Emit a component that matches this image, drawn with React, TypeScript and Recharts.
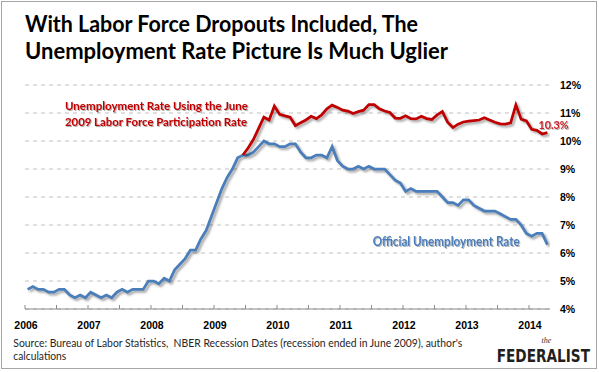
import React from "react";
import { LineChart, Line, XAxis, YAxis, CartesianGrid } from "recharts";

// Monthly data, Jan 2006 .. Apr 2014 (100 months)
const startYear = 2006;
const officialRate: number[] = [
  // 2006
  4.7, 4.8, 4.7, 4.7, 4.6, 4.6, 4.7, 4.7, 4.5, 4.4, 4.5, 4.4,
  // 2007
  4.6, 4.5, 4.4, 4.5, 4.4, 4.6, 4.7, 4.6, 4.7, 4.7, 4.7, 5.0,
  // 2008
  5.0, 4.9, 5.1, 5.0, 5.4, 5.6, 5.8, 6.1, 6.1, 6.5, 6.8, 7.3,
  // 2009
  7.8, 8.3, 8.7, 9.0, 9.4, 9.5, 9.5, 9.6, 9.8, 10.0, 9.9, 9.9,
  // 2010
  9.8, 9.8, 9.9, 9.9, 9.6, 9.4, 9.4, 9.5, 9.5, 9.4, 9.8, 9.3,
  // 2011
  9.1, 9.0, 9.0, 9.1, 9.0, 9.1, 9.0, 9.0, 9.0, 8.8, 8.6, 8.5,
  // 2012
  8.2, 8.3, 8.2, 8.2, 8.2, 8.2, 8.2, 8.0, 7.8, 7.8, 7.7, 7.9,
  // 2013
  7.9, 7.7, 7.6, 7.5, 7.5, 7.5, 7.4, 7.3, 7.2, 7.2, 7.0, 6.7,
  // 2014
  6.6, 6.7, 6.7, 6.3,
];

// Starts June 2009 (month index 41)
const adjustedStartIndex = 41;
const adjustedRate: number[] = [
  9.5, 9.75, 10.05, 10.45, 10.85, 10.75, 11.25,
  10.95, 10.9, 10.85, 10.55, 10.65, 10.75, 10.88, 10.8, 10.93, 11.15, 11.28, 11.2,
  11.1, 11.07, 10.98, 11.05, 11.1, 11.3, 11.3, 11.15, 11.07, 11.02, 10.82, 10.81,
  10.9, 10.8, 10.79, 10.88, 10.8, 10.77, 10.93, 11.05, 10.67, 10.48, 10.6, 10.68,
  10.71, 10.73, 10.75, 10.83, 10.75, 10.67, 10.61, 10.6, 10.65, 11.29, 10.78, 10.72,
  10.42, 10.38, 10.25, 10.3,
];

const yTicks = [4, 5, 6, 7, 8, 9, 10, 11, 12];
const xTicks: number[] = [];
for (let k = 0; k <= 16; k++) xTicks.push(k * 6 - 0.5);

const data = officialRate.map((v, i) => ({
  i,
  official: v,
  adjusted: i >= adjustedStartIndex ? adjustedRate[i - adjustedStartIndex] : null,
}));

const AXIS_GRAY = "#8c8c8c";

const XTick = (props: any) => {
  const { x, y, payload } = props;
  const v = payload.value as number;
  const m = v + 0.5;
  const isYear = Math.abs(m % 12) < 0.01;
  return (
    <g>
      <line x1={x} x2={x} y1={y - 4} y2={y} stroke={AXIS_GRAY} strokeWidth={1} />
      {isYear && (
        <text
          x={x + 1}
          y={y + 19.5}
          textAnchor="middle"
          fontFamily="'Liberation Sans', Arial, sans-serif"
          fontWeight="bold"
          fontSize={10.5}
          fill="#000"
        >
          {startYear + m / 12}
        </text>
      )}
    </g>
  );
};

const titleFont = "Lato, 'Open Sans', sans-serif";

export default function App() {
  return (
    <div style={{ position: "absolute", left: 0, top: 0, width: 599, height: 372, background: "#fff" }}>
      <style>{`.shadowline path { filter: drop-shadow(2px 2.5px 1.2px rgba(0,0,0,0.35)); }`}</style>
      <LineChart
        width={599}
        height={372}
        data={data}
        margin={{ top: 85, right: 9, bottom: 43, left: 25 }}
      >
        <CartesianGrid
          horizontal={true}
          vertical={false}
          stroke="#bfbfbf"
          strokeDasharray="4 4"
        />
        <XAxis
          dataKey="i"
          type="number"
          domain={[-0.5, 99.5]}
          ticks={xTicks}
          interval={0}
          height={20}
          axisLine={{ stroke: AXIS_GRAY, strokeWidth: 1 }}
          tickLine={false}
          tickSize={0}
          tickMargin={0}
          tick={<XTick />}
          allowDataOverflow
        />
        <YAxis
          orientation="right"
          width={40}
          domain={[4, 12]}
          ticks={yTicks}
          interval={0}
          axisLine={false}
          tickLine={false}
          tickSize={0}
          tickMargin={10}
          tickFormatter={(v: number) => `${v}%`}
          tick={{
            fontFamily: "'Liberation Sans', Arial, sans-serif",
            fontWeight: "bold",
            fontSize: 10.5,
            fill: "#000",
          }}
        />
        <Line
          className="shadowline"
          type="linear"
          dataKey="official"
          stroke="#4a7ebb"
          strokeWidth={2.75}
          dot={false}
          activeDot={false}
          isAnimationActive={false}
        />
        <Line
          className="shadowline"
          type="linear"
          dataKey="adjusted"
          stroke="#c00000"
          strokeWidth={2.75}
          dot={false}
          activeDot={false}
          connectNulls={false}
          isAnimationActive={false}
        />
      </LineChart>
      <svg
        width={599}
        height={372}
        style={{ position: "absolute", left: 0, top: 0, pointerEvents: "none" }}
      >
        <defs>
          <filter id="txtShadow" x="-10%" y="-30%" width="130%" height="180%">
            <feDropShadow dx="1" dy="1" stdDeviation="0.7" floodColor="#000" floodOpacity="0.3" />
          </filter>
        </defs>
        <rect x={1.5} y={1.5} width={595} height={367} fill="none" stroke="#a6a6a6" strokeWidth={1} />
        <text x={25} y={31.5} fontFamily={titleFont} fontWeight="bold" fontSize={23} fill="#000"
          textLength={393} lengthAdjust="spacingAndGlyphs">
          With Labor Force Dropouts Included, The
        </text>
        <text x={25} y={58.5} fontFamily={titleFont} fontWeight="bold" fontSize={23} fill="#000"
          textLength={423} lengthAdjust="spacingAndGlyphs">
          Unemployment Rate Picture Is Much Uglier
        </text>
        <g filter="url(#txtShadow)">
          <text x={65} y={109.5} fontFamily={titleFont} fontWeight="bold" fontSize={11.5} fill="#c00000"
            textLength={183} lengthAdjust="spacingAndGlyphs">
            Unemployment Rate Using the June
          </text>
          <text x={65} y={125.5} fontFamily={titleFont} fontWeight="bold" fontSize={11.5} fill="#c00000"
            textLength={182} lengthAdjust="spacingAndGlyphs">
            2009 Labor Force Participation Rate
          </text>
          <text x={372.7} y={245.5} fontFamily={titleFont} fontWeight="bold" fontSize={12.5} fill="#4a7ebb"
            textLength={147} lengthAdjust="spacingAndGlyphs">
            Official Unemployment Rate
          </text>
          <text x={538.5} y={128.5} fontFamily={titleFont} fontWeight="bold" fontSize={11.5} fill="#c8262b"
            textLength={30} lengthAdjust="spacingAndGlyphs">
            10.3%
          </text>
        </g>
        <text x={13.3} y={347} fontFamily={titleFont} fontSize={11} fill="#262626"
          textLength={449} lengthAdjust="spacingAndGlyphs" style={{ whiteSpace: "pre" }}>
          {"Source: Bureau of Labor Statistics,  NBER Recession Dates (recession ended in June 2009), author's"}
        </text>
        <text x={13.3} y={359.5} fontFamily={titleFont} fontSize={11} fill="#262626"
          textLength={53} lengthAdjust="spacingAndGlyphs">
          calculations
        </text>
        <text x={546.5} y={342.5} textAnchor="middle" fontFamily="'Liberation Serif', serif" fontStyle="italic"
          fontSize={8} fill="#333">
          the
        </text>
        <g transform="translate(0 361.7) scale(1 1.25) translate(0 -361.7)">
          <text x={496.7} y={361.7} fontFamily="'DejaVu Sans', sans-serif"
            fontWeight="bold" fontSize={14.5} fill="#231f20" textLength={93.3} lengthAdjust="spacingAndGlyphs">
            FEDERALIST
          </text>
        </g>
      </svg>
    </div>
  );
}
